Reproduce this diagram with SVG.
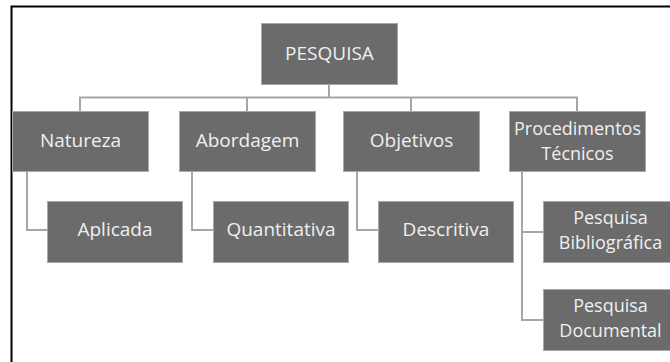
<svg xmlns="http://www.w3.org/2000/svg" width="670" height="362" viewBox="0 0 670 362">
<style>
.box{fill:#6b6b6b;stroke:#a8a8a8;stroke-width:1}
.t{font-family:"Open Sans","Liberation Sans",sans-serif;font-size:19px;fill:#f0f0f0;text-anchor:middle}
.t2{font-family:"Open Sans","Liberation Sans",sans-serif;font-size:18px;fill:#f0f0f0;text-anchor:middle}
.c{fill:none;stroke:#a6a6a6;stroke-width:2}
</style>
<rect x="0" y="0" width="670" height="362" fill="#ffffff"/>
<path d="M11.5 362 V6.5 H670" fill="none" stroke="#000" stroke-width="2"/>
<g id="connectors">
<path class="c" d="M329 84 V97.5 M80 112 V97.5 H577 V112 M247 97.5 V112 M411 97.5 V112"/>
<path class="c" d="M27 172 V230 H47"/>
<path class="c" d="M192 172 V230 H213"/>
<path class="c" d="M357 172 V230 H378"/>
<path class="c" d="M522 172 V320 H543 M522 232 H543"/>
</g>
<g id="pesquisa"><rect class="box" x="261.5" y="23.5" width="136" height="61"/><text class="t" x="329.5" y="59.5">PESQUISA</text></g>
<g id="natureza"><rect class="box" x="12.5" y="111.5" width="136" height="60"/><text class="t" x="80.5" y="147">Natureza</text></g>
<g id="abordagem"><rect class="box" x="179.5" y="111.5" width="136" height="60"/><text class="t" x="247.5" y="147">Abordagem</text></g>
<g id="objetivos"><rect class="box" x="343.5" y="111.5" width="136" height="60"/><text class="t" x="411.5" y="147">Objetivos</text></g>
<g id="procedimentos"><rect class="box" x="509.5" y="111.5" width="136" height="60"/><text class="t2" x="577.5" y="135">Procedimentos</text><text class="t2" x="577.5" y="159.5">Técnicos</text></g>
<g id="aplicada"><rect class="box" x="47.5" y="201.5" width="135" height="61"/><text class="t" x="115" y="236">Aplicada</text></g>
<g id="quantitativa"><rect class="box" x="213.5" y="201.5" width="135" height="61"/><text class="t" x="281" y="236">Quantitativa</text></g>
<g id="descritiva"><rect class="box" x="378.5" y="201.5" width="135" height="61"/><text class="t" x="446" y="236">Descritiva</text></g>
<g id="bibliografica"><rect class="box" x="543.5" y="201.5" width="135" height="61"/><text class="t2" x="610.5" y="224">Pesquisa</text><text class="t2" x="610.5" y="248.5">Bibliográfica</text></g>
<g id="documental"><rect class="box" x="543.5" y="289.5" width="135" height="61"/><text class="t2" x="610.5" y="312">Pesquisa</text><text class="t2" x="610.5" y="336.5">Documental</text></g>
</svg>
